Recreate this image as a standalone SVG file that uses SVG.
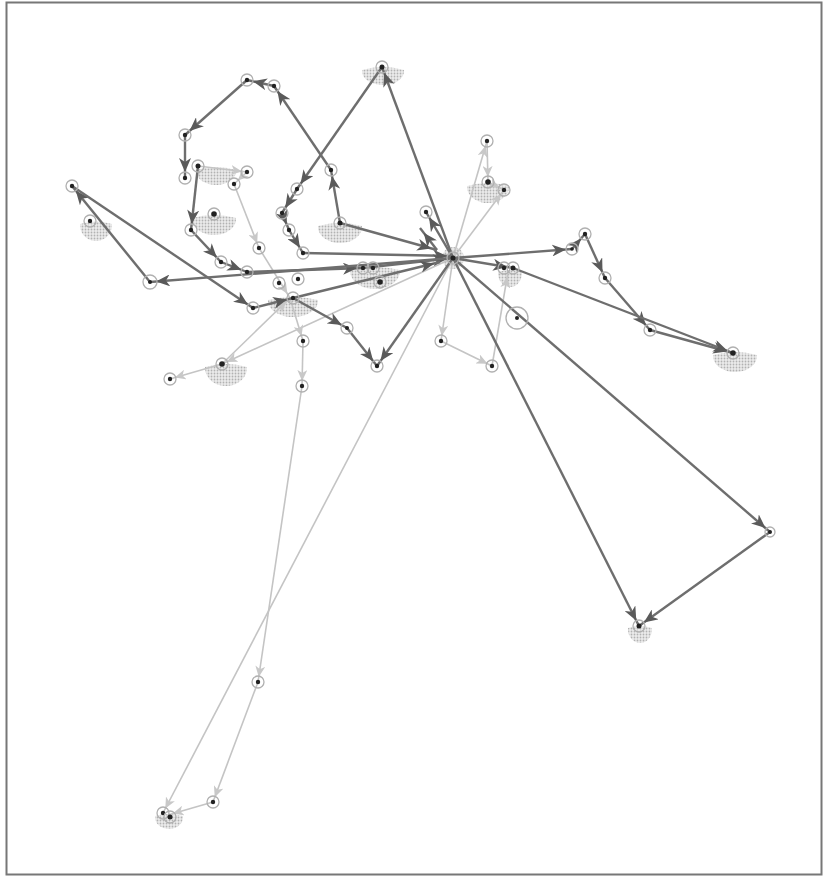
<svg xmlns="http://www.w3.org/2000/svg" width="825" height="877" viewBox="0 0 825 877">
<style>
.d{stroke:#6e6e6e;stroke-width:2.4;fill:none;marker-end:url(#ad)}
.l{stroke:#c4c4c4;stroke-width:1.6;fill:none;marker-end:url(#al)}
.ring{fill:none;stroke:#b0b0b0;stroke-width:1.3}
.dot{fill:#222}
.fan{fill:url(#ht);stroke:none}
</style>
<defs>
<pattern id="ht" width="3" height="3" patternUnits="userSpaceOnUse">
<rect width="3" height="3" fill="#ececec"/>
<circle cx="1.5" cy="1.5" r="0.9" fill="#b2b2b2"/>
</pattern>
<marker id="ad" markerUnits="userSpaceOnUse" markerWidth="16" markerHeight="12" viewBox="0 0 16 12" refX="20" refY="6" orient="auto">
<path d="M0,0 L14,6 L0,12 L4,6 Z" fill="#5a5a5a"/>
</marker>
<marker id="al" markerUnits="userSpaceOnUse" markerWidth="12" markerHeight="10" viewBox="0 0 12 10" refX="16" refY="5" orient="auto">
<path d="M0,0 L11,5 L0,10 L3,5 Z" fill="#c8c8c8"/>
</marker>
</defs>
<rect x="6.5" y="2.5" width="815" height="872" fill="#fff" stroke="#777" stroke-width="2"/>

<g id="fans">
<path class="fan" d="M362,70 Q383,64 404,70 A21,14 0 0 1 362,72 Z"/>
<path class="fan" d="M467,186 Q488,180 509,186 A21,16 0 0 1 467,188 Z"/>
<path class="fan" d="M196,170 Q216,164 236,170 A20,14 0 0 1 196,172 Z"/>
<path class="fan" d="M192,218 Q214,212 236,218 A22,16 0 0 1 192,220 Z"/>
<path class="fan" d="M80,224 Q96,219 112,224 A16,16 0 0 1 80,226 Z"/>
<path class="fan" d="M318,226 Q340,220 362,226 A22,16 0 0 1 318,228 Z"/>
<path class="fan" d="M350,270 Q375,264 400,270 A25,18 0 0 1 350,272 Z"/>
<path class="fan" d="M268,300 Q293,294 318,300 A25,16 0 0 1 268,302 Z"/>
<path class="fan" d="M205,367 Q226,361 247,367 A21,18 0 0 1 205,369 Z"/>
<path class="fan" d="M713,355 Q735,349 757,355 A22,16 0 0 1 713,357 Z"/>
<path class="fan" d="M628,628 Q640,624 652,628 A12,14 0 0 1 628,630 Z"/>
<path class="fan" d="M498,272 Q510,268 522,272 A12,14 0 0 1 498,274 Z"/>
<circle class="fan" cx="453" cy="258" r="11"/>
<path class="fan" d="M155,816 Q169,812 183,816 A14,12 0 0 1 155,818 Z"/>
</g>

<g id="connectors">
<line class="l" x1="453" y1="258" x2="487" y2="141"/>
<line class="l" x1="487" y1="141" x2="488" y2="182"/>
<line class="l" x1="453" y1="258" x2="504" y2="190"/>
<line class="l" x1="488" y1="182" x2="504" y2="190"/>
<line class="l" x1="453" y1="258" x2="222" y2="364"/>
<line class="l" x1="222" y1="364" x2="170" y2="379"/>
<line class="l" x1="222" y1="364" x2="290" y2="298"/>
<line class="l" x1="290" y1="298" x2="303" y2="341"/>
<line class="l" x1="303" y1="341" x2="302" y2="386"/>
<line class="l" x1="302" y1="386" x2="258" y2="682"/>
<line class="l" x1="258" y1="682" x2="213" y2="802"/>
<line class="l" x1="213" y1="802" x2="168" y2="815"/>
<line class="l" x1="453" y1="258" x2="163" y2="813"/>
<line class="l" x1="453" y1="258" x2="441" y2="341"/>
<line class="l" x1="441" y1="341" x2="492" y2="366"/>
<line class="l" x1="492" y1="366" x2="508" y2="272"/>
<line class="l" x1="198" y1="166" x2="247" y2="172"/>
<line class="l" x1="247" y1="172" x2="234" y2="184"/>
<line class="l" x1="234" y1="184" x2="259" y2="248"/>
<line class="l" x1="259" y1="248" x2="290" y2="298"/>

<line class="d" x1="453" y1="258" x2="382" y2="67"/>
<line class="d" x1="382" y1="67" x2="297" y2="189"/>
<line class="d" x1="297" y1="189" x2="282" y2="213"/>
<line class="d" x1="282" y1="213" x2="289" y2="230"/>
<line class="d" x1="289" y1="230" x2="303" y2="253"/>
<line class="d" x1="303" y1="253" x2="453" y2="256"/>
<line class="d" x1="340" y1="223" x2="437" y2="250"/>
<line class="d" x1="340" y1="223" x2="331" y2="170"/>
<line class="d" x1="331" y1="170" x2="274" y2="86"/>
<line class="d" x1="274" y1="86" x2="247" y2="80"/>
<line class="d" x1="247" y1="80" x2="185" y2="135"/>
<line class="d" x1="185" y1="135" x2="185" y2="178"/>
<line class="d" x1="198" y1="166" x2="191" y2="230"/>
<line class="d" x1="191" y1="230" x2="221" y2="262"/>
<line class="d" x1="221" y1="262" x2="247" y2="272"/>
<line class="d" x1="247" y1="272" x2="363" y2="268"/>
<line class="d" x1="363" y1="268" x2="453" y2="258"/>
<line class="d" x1="453" y1="258" x2="150" y2="282"/>
<line class="d" x1="150" y1="282" x2="72" y2="186"/>
<line class="d" x1="72" y1="186" x2="253" y2="308"/>
<line class="d" x1="253" y1="308" x2="293" y2="298"/>
<line class="d" x1="293" y1="298" x2="440" y2="262"/>
<line class="d" x1="293" y1="298" x2="347" y2="328"/>
<line class="d" x1="347" y1="328" x2="377" y2="366"/>
<line class="d" x1="453" y1="258" x2="377" y2="366"/>
<line class="d" x1="453" y1="258" x2="426" y2="212"/>
<line class="d" x1="437" y1="250" x2="420" y2="228"/>
<line class="d" x1="453" y1="258" x2="572" y2="249"/>
<line class="d" x1="572" y1="249" x2="585" y2="234"/>
<line class="d" x1="585" y1="234" x2="605" y2="278"/>
<line class="d" x1="605" y1="278" x2="650" y2="330"/>
<line class="d" x1="650" y1="330" x2="733" y2="353"/>
<line class="d" x1="453" y1="258" x2="513" y2="268"/>
<line class="d" x1="513" y1="268" x2="733" y2="353"/>
<line class="d" x1="453" y1="258" x2="770" y2="532"/>
<line class="d" x1="770" y1="532" x2="639" y2="626"/>
<line class="d" x1="453" y1="258" x2="639" y2="626"/>
</g>

<g id="n-hub"><circle class="ring" cx="453" cy="258" r="6"/><circle class="dot" cx="453" cy="258" r="2.5"/></g>
<g id="n1"><circle class="ring" cx="382" cy="67" r="6"/><circle class="dot" cx="382" cy="67" r="2.5"/></g>
<g id="n2"><circle class="ring" cx="297" cy="189" r="6"/><circle class="dot" cx="297" cy="189" r="2.2"/></g>
<g id="n3"><circle class="ring" cx="282" cy="213" r="6"/><circle class="dot" cx="282" cy="213" r="2.2"/></g>
<g id="n4"><circle class="ring" cx="289" cy="230" r="6"/><circle class="dot" cx="289" cy="230" r="2.2"/></g>
<g id="n5"><circle class="ring" cx="303" cy="253" r="6"/><circle class="dot" cx="303" cy="253" r="2.2"/></g>
<g id="n6"><circle class="ring" cx="340" cy="223" r="6"/><circle class="dot" cx="340" cy="223" r="2.5"/></g>
<g id="n7"><circle class="ring" cx="331" cy="170" r="6"/><circle class="dot" cx="331" cy="170" r="2.2"/></g>
<g id="n8"><circle class="ring" cx="274" cy="86" r="6"/><circle class="dot" cx="274" cy="86" r="2.2"/></g>
<g id="n9"><circle class="ring" cx="247" cy="80" r="6"/><circle class="dot" cx="247" cy="80" r="2.2"/></g>
<g id="n10"><circle class="ring" cx="185" cy="135" r="6"/><circle class="dot" cx="185" cy="135" r="2.2"/></g>
<g id="n11"><circle class="ring" cx="185" cy="178" r="6"/><circle class="dot" cx="185" cy="178" r="2.2"/></g>
<g id="n12"><circle class="ring" cx="198" cy="166" r="6"/><circle class="dot" cx="198" cy="166" r="2.5"/></g>
<g id="n13"><circle class="ring" cx="191" cy="230" r="6"/><circle class="dot" cx="191" cy="230" r="2.2"/></g>
<g id="n14"><circle class="ring" cx="221" cy="262" r="6"/><circle class="dot" cx="221" cy="262" r="2.2"/></g>
<g id="n15"><circle class="ring" cx="247" cy="272" r="6"/><circle class="dot" cx="247" cy="272" r="2.2"/></g>
<g id="n16"><circle class="ring" cx="279" cy="283" r="6"/><circle class="dot" cx="279" cy="283" r="2.2"/></g>
<g id="n17"><circle class="ring" cx="298" cy="279" r="6"/><circle class="dot" cx="298" cy="279" r="2.2"/></g>
<g id="n18"><circle class="ring" cx="363" cy="268" r="6"/><circle class="dot" cx="363" cy="268" r="2.2"/></g>
<g id="n19"><circle class="ring" cx="373" cy="268" r="6"/><circle class="dot" cx="373" cy="268" r="2.2"/></g>
<g id="n20"><circle class="ring" cx="380" cy="282" r="6"/><circle class="dot" cx="380" cy="282" r="2.8"/></g>
<g id="n21"><circle class="ring" cx="150" cy="282" r="7"/><circle class="dot" cx="150" cy="282" r="2"/></g>
<g id="n22"><circle class="ring" cx="72" cy="186" r="6"/><circle class="dot" cx="72" cy="186" r="2.2"/></g>
<g id="n23"><circle class="ring" cx="90" cy="221" r="6"/><circle class="dot" cx="90" cy="221" r="2.2"/></g>
<g id="n24"><circle class="ring" cx="253" cy="308" r="6"/><circle class="dot" cx="253" cy="308" r="2.2"/></g>
<g id="n25"><circle class="ring" cx="293" cy="298" r="6"/><circle class="dot" cx="293" cy="298" r="2.2"/></g>
<g id="n26"><circle class="ring" cx="347" cy="328" r="6"/><circle class="dot" cx="347" cy="328" r="2"/></g>
<g id="n27"><circle class="ring" cx="377" cy="366" r="6"/><circle class="dot" cx="377" cy="366" r="2.2"/></g>
<g id="n28"><circle class="ring" cx="426" cy="212" r="6"/><circle class="dot" cx="426" cy="212" r="2.2"/></g>
<g id="n29"><circle class="ring" cx="572" cy="249" r="6"/><circle class="dot" cx="572" cy="249" r="1.8"/></g>
<g id="n30"><circle class="ring" cx="585" cy="234" r="6"/><circle class="dot" cx="585" cy="234" r="2.2"/></g>
<g id="n31"><circle class="ring" cx="605" cy="278" r="6"/><circle class="dot" cx="605" cy="278" r="2.2"/></g>
<g id="n32"><circle class="ring" cx="650" cy="330" r="6"/><circle class="dot" cx="650" cy="330" r="2.2"/></g>
<g id="n33"><circle class="ring" cx="733" cy="353" r="6"/><circle class="dot" cx="733" cy="353" r="2.8"/></g>
<g id="n34"><circle class="ring" cx="513" cy="268" r="6"/><circle class="dot" cx="513" cy="268" r="2.5"/></g>
<g id="n35"><circle class="ring" cx="504" cy="268" r="6"/><circle class="dot" cx="504" cy="268" r="2.2"/></g>
<g id="n36"><circle class="ring" cx="517" cy="318" r="11"/><circle class="dot" cx="517" cy="318" r="2"/></g>
<g id="n37"><circle class="ring" cx="770" cy="532" r="5"/><circle class="dot" cx="770" cy="532" r="2"/></g>
<g id="n38"><circle class="ring" cx="639" cy="626" r="6"/><circle class="dot" cx="639" cy="626" r="2.5"/></g>
<g id="n39"><circle class="ring" cx="487" cy="141" r="6"/><circle class="dot" cx="487" cy="141" r="2.2"/></g>
<g id="n40"><circle class="ring" cx="488" cy="182" r="6"/><circle class="dot" cx="488" cy="182" r="2.8"/></g>
<g id="n41"><circle class="ring" cx="504" cy="190" r="6"/><circle class="dot" cx="504" cy="190" r="2.2"/></g>
<g id="n42"><circle class="ring" cx="222" cy="364" r="6"/><circle class="dot" cx="222" cy="364" r="2.8"/></g>
<g id="n43"><circle class="ring" cx="170" cy="379" r="6"/><circle class="dot" cx="170" cy="379" r="2.2"/></g>
<g id="n44"><circle class="ring" cx="303" cy="341" r="6"/><circle class="dot" cx="303" cy="341" r="2.2"/></g>
<g id="n45"><circle class="ring" cx="302" cy="386" r="6"/><circle class="dot" cx="302" cy="386" r="2.2"/></g>
<g id="n46"><circle class="ring" cx="258" cy="682" r="6"/><circle class="dot" cx="258" cy="682" r="2.2"/></g>
<g id="n47"><circle class="ring" cx="213" cy="802" r="6"/><circle class="dot" cx="213" cy="802" r="2.2"/></g>
<g id="n48"><circle class="ring" cx="163" cy="813" r="6"/><circle class="dot" cx="163" cy="813" r="2.2"/></g>
<g id="n49"><circle class="ring" cx="170" cy="817" r="6"/><circle class="dot" cx="170" cy="817" r="2.5"/></g>
<g id="n50"><circle class="ring" cx="441" cy="341" r="6"/><circle class="dot" cx="441" cy="341" r="2.2"/></g>
<g id="n51"><circle class="ring" cx="492" cy="366" r="6"/><circle class="dot" cx="492" cy="366" r="2.2"/></g>
<g id="n52"><circle class="ring" cx="247" cy="172" r="6"/><circle class="dot" cx="247" cy="172" r="2.2"/></g>
<g id="n53"><circle class="ring" cx="234" cy="184" r="6"/><circle class="dot" cx="234" cy="184" r="2.2"/></g>
<g id="n54"><circle class="ring" cx="259" cy="248" r="6"/><circle class="dot" cx="259" cy="248" r="2.2"/></g>
<g id="n55"><circle class="ring" cx="214" cy="214" r="6"/><circle class="dot" cx="214" cy="214" r="2.8"/></g>
</svg>
